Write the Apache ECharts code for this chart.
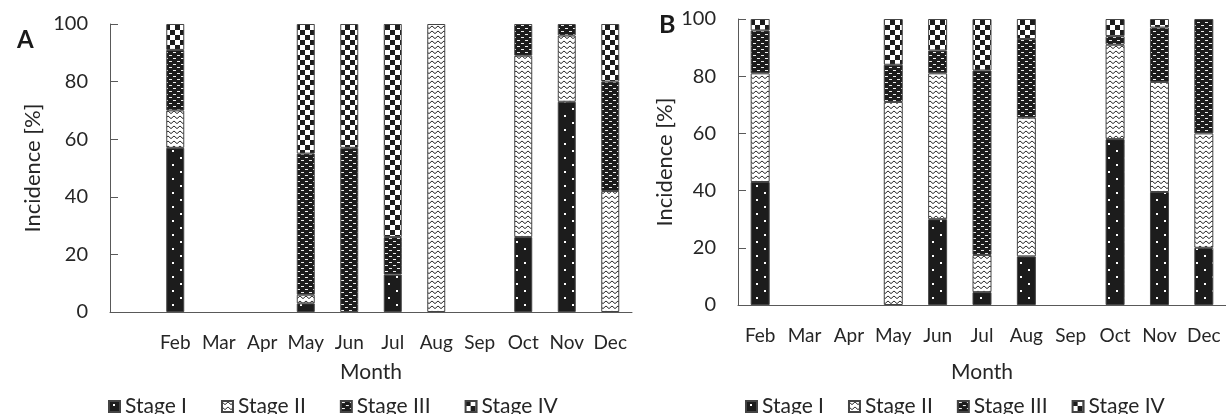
<!DOCTYPE html>
<html><head><meta charset="utf-8">
<script src="https://cdn.jsdelivr.net/npm/echarts@6/dist/echarts.min.js"></script>
<style>html,body{margin:0;padding:0;background:#fff}#c{width:1226px;height:414px}</style>
</head><body><div id="c"></div>
<script>
// ---- data ----
const monthsA = ['', 'Feb', 'Mar', 'Apr', 'May', 'Jun', 'Jul', 'Aug', 'Sep', 'Oct', 'Nov', 'Dec'];
const monthsB = ['Feb', 'Mar', 'Apr', 'May', 'Jun', 'Jul', 'Aug', 'Sep', 'Oct', 'Nov', 'Dec'];
const stageNames = ['Stage I', 'Stage II', 'Stage III', 'Stage IV'];
const yMin = 0, yMax = 100, yStep = 20;
// Panel A (incidence %)
const stageI_A   = ['-', 57, '-', '-', 3, '-', 13, '-', '-', 26, 73, '-'];
const stageII_A  = ['-', 13, '-', '-', 3, '-', '-', 100, '-', 63, 23, 42];
const stageIII_A = ['-', 21, '-', '-', 49, 57, 13, '-', '-', 11, 4, 38];
const stageIV_A  = ['-', 9, '-', '-', 45, 43, 74, '-', '-', '-', '-', 20];
// Panel B (incidence %)
const stageI_B   = [43, '-', '-', '-', 30, 4.5, 17, '-', 58, 39.5, 20];
const stageII_B  = [38, '-', '-', 71, 51, 13, 48.5, '-', 33, 38.5, 40];
const stageIII_B = [15, '-', '-', 13, 8, 64.5, 27.5, '-', 3, 19, 40];
const stageIV_B  = [4, '-', '-', 16, 11, 18, 7, '-', 6, 3, '-'];

// ---- patterns ----
function tile(w, h, draw) {
  const c = document.createElement('canvas'); c.width = w; c.height = h;
  const g = c.getContext('2d'); draw(g, w, h); return c;
}
const patI = tile(16, 14, (g, w, h) => {
  g.fillStyle = '#1c1c1c'; g.fillRect(0, 0, w, h);
  g.fillStyle = '#fff'; g.fillRect(4, 3, 2, 2); g.fillRect(12, 10, 2, 2);
});
const patII = tile(6, 5, (g, w, h) => {
  g.fillStyle = '#fff'; g.fillRect(0, 0, w, h);
  g.strokeStyle = '#2a2a2a'; g.lineWidth = 1;
  g.beginPath(); g.moveTo(0, 1); g.lineTo(3, 3.6); g.lineTo(6, 1); g.stroke();
});
const patIII = tile(8, 6, (g, w, h) => {
  g.fillStyle = '#1c1c1c'; g.fillRect(0, 0, w, h);
  g.fillStyle = '#eee'; g.fillRect(1, 1, 3, 1); g.fillRect(5, 4, 3, 1);
});
const patIV = tile(10, 10, (g, w, h) => {
  g.fillStyle = '#fff'; g.fillRect(0, 0, w, h);
  g.fillStyle = '#1c1c1c'; g.fillRect(0, 0, 5, 5); g.fillRect(5, 5, 5, 5);
});
const pats = [patI, patII, patIII, patIV];

const FONT = 'Lato, "Open Sans", sans-serif';
const TXT = '#262626';
const AX = '#595959';

function xAxisFor(gi, cats, gap) {
  return {
    type: 'category', gridIndex: gi, data: cats, name: 'Month', nameLocation: 'middle', nameGap: gap,
    nameTextStyle: { fontFamily: FONT, fontSize: 21, color: TXT },
    axisLine: { lineStyle: { color: AX, width: 1 } },
    axisTick: { inside: true, length: 7, lineStyle: { color: AX } },
    axisLabel: { fontFamily: FONT, fontSize: 19, color: TXT, margin: 21, interval: 0 }
  };
}
function yAxisFor(gi, gap) {
  return {
    type: 'value', gridIndex: gi, min: yMin, max: yMax, interval: yStep,
    name: 'Incidence [%]', nameLocation: 'middle', nameGap: gap, nameRotate: 90,
    nameTextStyle: { fontFamily: FONT, fontSize: 22, color: TXT },
    axisLine: { show: true, lineStyle: { color: AX, width: 1 } },
    axisTick: { show: true, inside: true, length: 8, lineStyle: { color: AX } },
    splitLine: { show: false },
    axisLabel: { fontFamily: FONT, fontSize: 20, color: TXT, margin: 22 }
  };
}
function mk(name, idx, data, gi, bw, stack) {
  return {
    type: 'bar', name, xAxisIndex: gi, yAxisIndex: gi, stack, data, barWidth: bw,
    itemStyle: { color: { image: pats[idx], repeat: 'repeat' }, borderColor: '#444', borderWidth: 1 },
    emphasis: { disabled: true }, animation: false
  };
}
const seriesA = [stageI_A, stageII_A, stageIII_A, stageIV_A];
const seriesB = [stageI_B, stageII_B, stageIII_B, stageIV_B];
const series = [];
seriesA.forEach((d, i) => series.push(mk(stageNames[i], i, d, 0, 18, 'A')));
seriesB.forEach((d, i) => series.push(mk(stageNames[i], i, d, 1, 19, 'B')));

const legendBase = {
  data: stageNames, icon: 'rect', itemWidth: 11, itemHeight: 11, selectedMode: false,
  textStyle: { fontFamily: FONT, fontSize: 21, color: TXT }
};

const chart = echarts.init(document.getElementById('c'), null, { renderer: 'canvas' });
chart.setOption({
  animation: false,
  backgroundColor: '#fff',
  title: [
    { text: 'A', left: 12, top: 23, textStyle: { fontFamily: FONT, fontSize: 24, fontWeight: 'bold', color: '#1a1a1a' } },
    { text: 'B', left: 654, top: 7, textStyle: { fontFamily: FONT, fontSize: 25, fontWeight: 'bold', color: '#1a1a1a' } }
  ],
  grid: [
    { left: 110, top: 24, width: 522, height: 288, containLabel: false },
    { left: 738, top: 19, width: 498, height: 286, containLabel: false }
  ],
  xAxis: [xAxisFor(0, monthsA, 50), xAxisFor(1, monthsB, 57)],
  yAxis: [yAxisFor(0, 66), yAxisFor(1, 62)],
  legend: [
    Object.assign({}, legendBase, { left: 103, top: 391, itemGap: 34 }),
    Object.assign({}, legendBase, { left: 740, top: 391, itemGap: 24 })
  ],
  series
});
</script></body></html>
